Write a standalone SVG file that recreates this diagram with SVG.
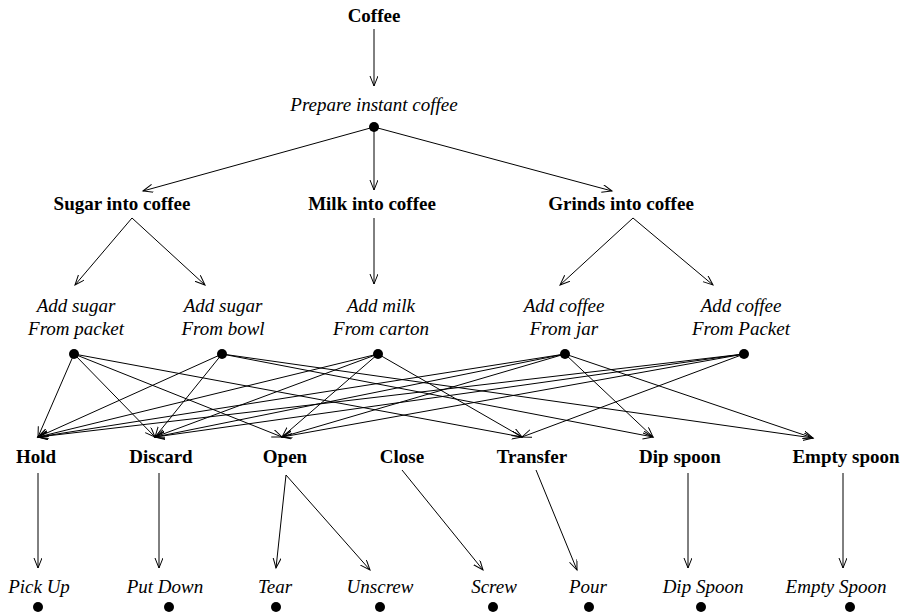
<svg xmlns="http://www.w3.org/2000/svg" width="902" height="615" viewBox="0 0 902 615">
<style>
text{font-family:"Liberation Serif","Times New Roman",serif;font-size:19px;fill:#000;text-anchor:middle}
.b{font-weight:bold}
.i{font-style:italic}
.c line{stroke:#000;stroke-width:1;marker-end:url(#arr)}
.d{fill:#000}
</style>
<defs>
<marker id="arr" markerWidth="12" markerHeight="10" refX="10" refY="4" orient="auto" markerUnits="userSpaceOnUse"><path d="M0,0 L10,4 L0,8" fill="none" stroke="#000" stroke-width="1"/></marker>
</defs>
<rect width="902" height="615" fill="#fff"/>
<g id="connectors" class="c">
<line x1="374" y1="29" x2="374" y2="86"/>
<line x1="374" y1="127" x2="143" y2="191"/>
<line x1="374" y1="127" x2="374" y2="190"/>
<line x1="374" y1="127" x2="612" y2="191"/>
<line x1="132" y1="218" x2="75" y2="285"/>
<line x1="132" y1="218" x2="205" y2="285"/>
<line x1="374" y1="218" x2="374" y2="284"/>
<line x1="633" y1="218" x2="560" y2="285"/>
<line x1="633" y1="218" x2="713" y2="285"/>
<line x1="74" y1="354" x2="38" y2="437"/>
<line x1="74" y1="354" x2="155" y2="437"/>
<line x1="74" y1="354" x2="282" y2="437"/>
<line x1="74" y1="354" x2="522" y2="437"/>
<line x1="222" y1="354" x2="38" y2="437"/>
<line x1="222" y1="354" x2="155" y2="437"/>
<line x1="222" y1="354" x2="653" y2="437"/>
<line x1="222" y1="354" x2="813" y2="438"/>
<line x1="378" y1="354" x2="38" y2="437"/>
<line x1="378" y1="354" x2="155" y2="437"/>
<line x1="378" y1="354" x2="282" y2="437"/>
<line x1="378" y1="354" x2="522" y2="437"/>
<line x1="565" y1="354" x2="38" y2="437"/>
<line x1="565" y1="354" x2="155" y2="437"/>
<line x1="565" y1="354" x2="282" y2="437"/>
<line x1="565" y1="354" x2="653" y2="437"/>
<line x1="565" y1="354" x2="813" y2="438"/>
<line x1="744" y1="354" x2="38" y2="437"/>
<line x1="744" y1="354" x2="155" y2="437"/>
<line x1="744" y1="354" x2="282" y2="437"/>
<line x1="744" y1="354" x2="522" y2="437"/>
<line x1="38" y1="473" x2="38" y2="568"/>
<line x1="159" y1="473" x2="159" y2="568"/>
<line x1="286" y1="475" x2="276" y2="568"/>
<line x1="286" y1="475" x2="370" y2="570"/>
<line x1="402" y1="470" x2="483" y2="570"/>
<line x1="536" y1="470" x2="577" y2="570"/>
<line x1="688" y1="473" x2="688" y2="568"/>
<line x1="843" y1="473" x2="843" y2="568"/>
</g>
<g id="coffee"><text class="b" x="374" y="22">Coffee</text></g>
<g id="prepare"><text class="i" x="374" y="111">Prepare instant coffee</text><circle class="d" cx="374" cy="127" r="5"/></g>
<g id="sugar"><text class="b" x="122" y="210">Sugar into coffee</text></g>
<g id="milk"><text class="b" x="372" y="210">Milk into coffee</text></g>
<g id="grinds"><text class="b" x="621" y="210">Grinds into coffee</text></g>
<g id="sugar-packet"><text class="i" x="76" y="312">Add sugar</text><text class="i" x="76" y="335">From packet</text><circle class="d" cx="74" cy="354" r="5"/></g>
<g id="sugar-bowl"><text class="i" x="223" y="312">Add sugar</text><text class="i" x="223" y="335">From bowl</text><circle class="d" cx="222" cy="354" r="5"/></g>
<g id="milk-carton"><text class="i" x="381" y="312">Add milk</text><text class="i" x="381" y="335">From carton</text><circle class="d" cx="378" cy="354" r="5"/></g>
<g id="coffee-jar"><text class="i" x="564" y="312">Add coffee</text><text class="i" x="564" y="335">From jar</text><circle class="d" cx="565" cy="354" r="5"/></g>
<g id="coffee-packet"><text class="i" x="741" y="312">Add coffee</text><text class="i" x="741" y="335">From Packet</text><circle class="d" cx="744" cy="354" r="5"/></g>
<g id="hold"><text class="b" x="36" y="463">Hold</text></g>
<g id="discard"><text class="b" x="161" y="463">Discard</text></g>
<g id="open"><text class="b" x="285" y="463">Open</text></g>
<g id="close"><text class="b" x="402" y="463">Close</text></g>
<g id="transfer"><text class="b" x="532" y="463">Transfer</text></g>
<g id="dip-spoon"><text class="b" x="680" y="463">Dip spoon</text></g>
<g id="empty-spoon"><text class="b" x="846" y="463">Empty spoon</text></g>
<g id="pick-up"><text class="i" x="39" y="593">Pick Up</text><circle class="d" cx="38" cy="607" r="5"/></g>
<g id="put-down"><text class="i" x="165" y="593">Put Down</text><circle class="d" cx="169" cy="607" r="5"/></g>
<g id="tear"><text class="i" x="275" y="593">Tear</text><circle class="d" cx="276" cy="607" r="5"/></g>
<g id="unscrew"><text class="i" x="380" y="593">Unscrew</text><circle class="d" cx="380" cy="607" r="5"/></g>
<g id="screw"><text class="i" x="494" y="593">Screw</text><circle class="d" cx="493" cy="607" r="5"/></g>
<g id="pour"><text class="i" x="588" y="593">Pour</text><circle class="d" cx="589" cy="607" r="5"/></g>
<g id="dip-spoon-leaf"><text class="i" x="703" y="593">Dip Spoon</text><circle class="d" cx="701" cy="607" r="5"/></g>
<g id="empty-spoon-leaf"><text class="i" x="836" y="593">Empty Spoon</text><circle class="d" cx="850" cy="607" r="5"/></g>
</svg>
